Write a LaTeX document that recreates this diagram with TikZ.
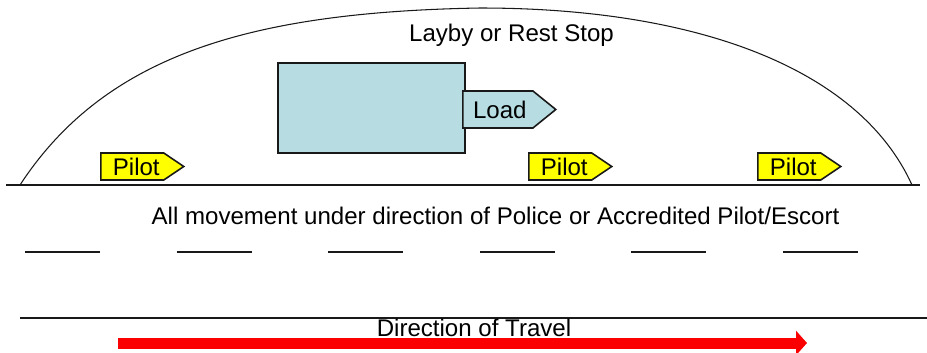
\documentclass[tikz,border=0pt]{standalone}
\usepackage{fontspec}
\setmainfont{Liberation Sans}
\usepackage{xcolor}
\usepackage{tikz}
\usetikzlibrary{shapes.symbols, arrows.meta, positioning}
\definecolor{loadblue}{RGB}{183,221,226}
\definecolor{pilotyellow}{RGB}{255,255,0}
\definecolor{travelred}{RGB}{250,0,0}
\definecolor{roadgray}{RGB}{25,25,25}
\newcommand{\lbl}{\fontsize{13.7}{16}\selectfont}
\tikzset{
  tag/.style={shape=signal, signal to=east, draw=roadgray, line width=0.9pt,
    inner sep=0pt, font=\lbl, anchor=west},
  pilottag/.style={tag, fill=pilotyellow, minimum width=1.66cm,
    minimum height=0.54cm, signal pointer angle=68},
  loadtag/.style={tag, fill=loadblue, minimum width=1.86cm,
    minimum height=0.74cm, signal pointer angle=78},
  vehicle/.style={rectangle, draw=roadgray, fill=loadblue, line width=0.9pt,
    minimum width=3.74cm, minimum height=1.8cm, inner sep=0pt},
  txt/.style={font=\lbl, inner sep=0pt, anchor=base},
  road/.style={draw=roadgray, line width=0.9pt},
  kerb/.style={draw=roadgray, line width=0.6pt},
  travel/.style={-{Triangle[length=0.22cm, width=0.48cm]}, line width=0.22cm,
    color=travelred},
}

\begin{document}
\begin{tikzpicture}[x=0.02cm, y=-0.02cm]
  \useasboundingbox (0,0) rectangle (927,352);

  % layby outline and road edges
  \draw[kerb] (20,185) .. controls (105,55) and (250,12) .. (480,8)
                       .. controls (700,8) and (860,70) .. (912,185);
  \draw[road] (6,185) -- (920,185);
  \draw[road] (20,318) -- (927,318);
  \foreach \i in {0,...,5}
    \draw[road, line width=1.2pt] ({25+151.6*\i},252) -- ++(75,0);

  \node[txt] (layby) at (511.5,41) {Layby or Rest Stop};

  % vehicle in the layby
  \node[vehicle] (truck) at (371.5,108) {};
  \node[loadtag] (load) at (462,109.5) {\hspace{0.08cm}Load\hspace{0.37cm}};

  \node[pilottag] (pilota) at (100,166.5) {\hspace{0.16cm}Pilot\hspace{0.14cm}};
  \node[pilottag] (pilotb) at (528,166.5) {\hspace{0.16cm}Pilot\hspace{0.14cm}};
  \node[pilottag] (pilotc) at (757,166.5) {\hspace{0.16cm}Pilot\hspace{0.14cm}};

  \node[txt] (rule) at (495.5,224)
        {All movement under direction of Police or Accredited Pilot/Escort};
  \node[txt] (dir) at (474,336) {Direction of Travel};

  \coordinate (tstart) at (118,343);
  \coordinate (tend) at (807,343);
  \draw[travel] (tstart) -- (tend);
\end{tikzpicture}
\end{document}
